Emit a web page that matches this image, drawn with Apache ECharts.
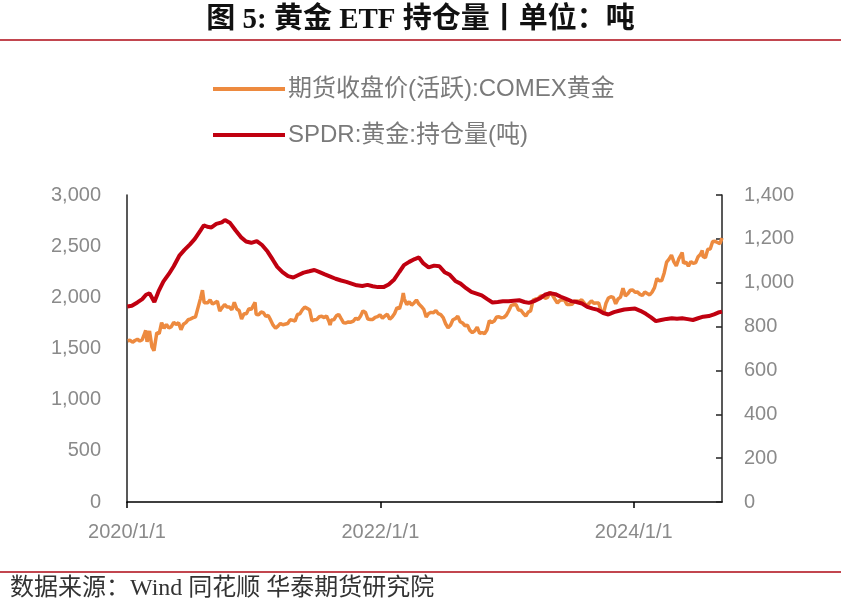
<!DOCTYPE html>
<html><head><meta charset="utf-8">
<script src="https://cdn.jsdelivr.net/npm/echarts@6/dist/echarts.min.js"></script>
<style>html,body{margin:0;padding:0;background:#fff}#c{width:841px;height:606px}</style>
</head><body><div id="c"></div>
<script>
const titleText = '图 5: 黄金 ETF 持仓量丨单位：吨';
const sourceText = '数据来源：Wind 同花顺 华泰期货研究院';
const seriesNames = ['期货收盘价(活跃):COMEX黄金', 'SPDR:黄金:持仓量(吨)'];
const xTickYears = [2020, 2022, 2024];
const leftTicks = [0, 500, 1000, 1500, 2000, 2500, 3000];
const rightTicks = [0, 200, 400, 600, 800, 1000, 1200, 1400];

const goldDates = ['2020-01-03','2020-01-10','2020-01-17','2020-01-24','2020-01-31','2020-02-07','2020-02-14','2020-02-21','2020-02-24','2020-02-28','2020-03-06','2020-03-09','2020-03-13','2020-03-19','2020-03-20','2020-03-27','2020-04-03','2020-04-10','2020-04-17','2020-04-24','2020-05-01','2020-05-08','2020-05-15','2020-05-22','2020-05-29','2020-06-05','2020-06-12','2020-06-19','2020-06-26','2020-07-03','2020-07-10','2020-07-17','2020-07-24','2020-07-31','2020-08-06','2020-08-11','2020-08-14','2020-08-21','2020-08-28','2020-09-04','2020-09-11','2020-09-18','2020-09-25','2020-10-02','2020-10-09','2020-10-16','2020-10-23','2020-10-30','2020-11-06','2020-11-13','2020-11-20','2020-11-27','2020-12-04','2020-12-11','2020-12-18','2020-12-25',
'2021-01-05','2021-01-08','2021-01-15','2021-01-22','2021-01-29','2021-02-05','2021-02-12','2021-02-19','2021-02-26','2021-03-05','2021-03-12','2021-03-19','2021-03-26','2021-03-31','2021-04-09','2021-04-16','2021-04-23','2021-04-30','2021-05-07','2021-05-14','2021-05-21','2021-05-28','2021-06-04','2021-06-11','2021-06-18','2021-06-25','2021-07-02','2021-07-09','2021-07-16','2021-07-23','2021-07-30','2021-08-06','2021-08-09','2021-08-13','2021-08-20','2021-08-27','2021-09-03','2021-09-10','2021-09-17','2021-09-24','2021-10-01','2021-10-08','2021-10-15','2021-10-22','2021-10-29','2021-11-05','2021-11-12','2021-11-16','2021-11-19','2021-11-26','2021-12-03','2021-12-10','2021-12-17','2021-12-24','2021-12-31',
'2022-01-07','2022-01-14','2022-01-21','2022-01-28','2022-02-04','2022-02-11','2022-02-18','2022-02-25','2022-03-04','2022-03-08','2022-03-11','2022-03-18','2022-03-25','2022-04-01','2022-04-08','2022-04-15','2022-04-22','2022-04-29','2022-05-06','2022-05-13','2022-05-20','2022-05-27','2022-06-03','2022-06-10','2022-06-17','2022-06-24','2022-07-01','2022-07-08','2022-07-15','2022-07-22','2022-07-29','2022-08-05','2022-08-12','2022-08-19','2022-08-26','2022-09-02','2022-09-09','2022-09-16','2022-09-23','2022-09-30','2022-10-07','2022-10-14','2022-10-21','2022-10-28','2022-11-04','2022-11-11','2022-11-18','2022-11-25','2022-12-02','2022-12-09','2022-12-16','2022-12-23','2022-12-30',
'2023-01-06','2023-01-13','2023-01-20','2023-01-27','2023-02-03','2023-02-10','2023-02-17','2023-02-24','2023-03-03','2023-03-10','2023-03-17','2023-03-24','2023-03-31','2023-04-07','2023-04-14','2023-04-21','2023-04-28','2023-05-04','2023-05-12','2023-05-19','2023-05-26','2023-06-02','2023-06-09','2023-06-16','2023-06-23','2023-06-30','2023-07-07','2023-07-14','2023-07-21','2023-07-28','2023-08-04','2023-08-11','2023-08-18','2023-08-25','2023-09-01','2023-09-08','2023-09-15','2023-09-22','2023-09-29','2023-10-06','2023-10-13','2023-10-20','2023-10-27','2023-11-03','2023-11-10','2023-11-17','2023-11-24','2023-12-01','2023-12-08','2023-12-15','2023-12-22','2023-12-29',
'2024-01-05','2024-01-12','2024-01-19','2024-01-26','2024-02-02','2024-02-09','2024-02-16','2024-02-23','2024-03-01','2024-03-08','2024-03-15','2024-03-22','2024-03-29','2024-04-05','2024-04-12','2024-04-19','2024-04-26','2024-05-03','2024-05-10','2024-05-17','2024-05-20','2024-05-24','2024-05-31','2024-06-07','2024-06-14','2024-06-21','2024-06-28','2024-07-05','2024-07-12','2024-07-17','2024-07-19','2024-07-26','2024-08-02','2024-08-09','2024-08-16','2024-08-23','2024-08-30','2024-09-06','2024-09-12'];
const goldPrice = [1575,1580,1561,1578,1590,1573,1586,1649,1676,1566,1672,1676,1516,1478,1484,1654,1645,1752,1698,1735,1700,1713,1756,1735,1751,1683,1737,1753,1781,1790,1801,1810,1897,1985,2069,1946,1944,1947,1975,1934,1947,1962,1866,1900,1930,1906,1905,1879,1951,1887,1872,1788,1840,1840,1888,1883,
1950,1835,1829,1856,1850,1814,1823,1777,1728,1698,1719,1745,1732,1715,1744,1780,1777,1768,1832,1838,1877,1905,1892,1879,1769,1781,1784,1810,1815,1802,1817,1763,1729,1779,1781,1819,1833,1791,1751,1750,1760,1757,1768,1796,1783,1818,1868,1855,1852,1788,1784,1784,1804,1811,1829,
1797,1818,1835,1785,1807,1842,1900,1889,1967,2043,1985,1929,1958,1924,1945,1974,1934,1911,1883,1808,1842,1853,1850,1871,1840,1830,1801,1742,1703,1727,1781,1791,1815,1762,1749,1722,1728,1677,1655,1672,1709,1648,1656,1645,1681,1771,1754,1768,1809,1810,1800,1804,1826,
1869,1921,1928,1929,1876,1874,1842,1817,1856,1867,1973,1983,1986,2011,2015,1990,1999,2050,2019,1981,1944,1969,1977,1971,1929,1929,1932,1961,1964,1960,1976,1946,1916,1940,1966,1942,1945,1945,1866,1845,1942,1994,2006,1999,1937,1985,2003,2089,2014,2035,2069,2072,
2050,2051,2029,2018,2053,2038,2024,2051,2095,2185,2161,2165,2238,2345,2374,2413,2347,2308,2375,2417,2438,2334,2345,2305,2349,2331,2339,2397,2421,2459,2399,2386,2470,2472,2546,2547,2536,2524,2580];

const spdrDates = ['2020-01-02','2020-01-15','2020-01-31','2020-02-14','2020-02-25','2020-03-06','2020-03-20','2020-04-01','2020-04-15','2020-05-01','2020-05-15','2020-06-01','2020-06-15','2020-07-01','2020-07-15','2020-08-01','2020-08-10','2020-08-20','2020-09-01','2020-09-15','2020-10-01','2020-10-10','2020-10-25','2020-11-10','2020-11-25','2020-12-10','2020-12-25',
'2021-01-10','2021-01-25','2021-02-10','2021-02-25','2021-03-10','2021-03-25','2021-04-10','2021-04-25','2021-05-10','2021-05-25','2021-06-10','2021-06-25','2021-07-10','2021-07-25','2021-08-10','2021-08-25','2021-09-10','2021-09-25','2021-10-10','2021-10-25','2021-11-10','2021-11-25','2021-12-10','2021-12-25',
'2022-01-10','2022-01-25','2022-02-10','2022-02-25','2022-03-10','2022-03-25','2022-04-10','2022-04-22','2022-05-05','2022-05-20','2022-06-05','2022-06-20','2022-07-05','2022-07-20','2022-08-05','2022-08-20','2022-09-05','2022-09-20','2022-10-05','2022-10-20','2022-11-05','2022-11-20','2022-12-05','2022-12-20',
'2023-01-05','2023-01-20','2023-02-05','2023-02-20','2023-03-05','2023-03-20','2023-04-05','2023-04-20','2023-05-05','2023-05-20','2023-06-05','2023-06-20','2023-07-05','2023-07-20','2023-08-05','2023-08-20','2023-09-05','2023-09-20','2023-10-05','2023-10-20','2023-11-05','2023-11-20','2023-12-05','2023-12-20',
'2024-01-05','2024-01-20','2024-02-05','2024-02-20','2024-03-05','2024-03-20','2024-04-05','2024-04-20','2024-05-05','2024-05-20','2024-06-05','2024-06-20','2024-07-05','2024-07-20','2024-08-05','2024-08-20','2024-09-01','2024-09-12'];
const spdrHoldings = [892,895,910,925,945,952,912,960,1005,1040,1075,1125,1150,1175,1200,1240,1262,1255,1252,1268,1275,1286,1272,1238,1208,1188,1182,
1190,1172,1142,1105,1072,1048,1030,1024,1035,1046,1052,1058,1048,1038,1028,1018,1010,1004,996,988,985,990,984,980,
980,992,1015,1050,1080,1095,1108,1115,1088,1070,1078,1075,1048,1036,1008,996,975,958,950,942,925,910,912,915,
916,918,920,912,908,916,928,945,952,948,936,926,916,912,905,890,882,876,862,855,866,872,878,880,
882,872,858,842,825,830,835,838,836,838,834,830,838,845,848,856,864,868];

function toYear(s) {
  const [y, m, d] = s.split('-').map(Number);
  const t0 = Date.UTC(y, 0, 1), t1 = Date.UTC(y + 1, 0, 1);
  return y + (Date.UTC(y, m - 1, d) - t0) / (t1 - t0);
}
const goldData = goldDates.map((d, i) => [toYear(d), goldPrice[i]]);
const spdrData = spdrDates.map((d, i) => [toYear(d), spdrHoldings[i]]);
const xMin = xTickYears[0];
const xMax = Math.max(toYear(goldDates[goldDates.length - 1]), toYear(spdrDates[spdrDates.length - 1]));

const labelColor = '#8a8a8a';
const labelFont = '"Liberation Sans", Arial, sans-serif';
const fmt = v => Number(v).toLocaleString('en-US');

const chart = echarts.init(document.getElementById('c'), null, {renderer: 'canvas'});
chart.setOption({
  animation: false,
  backgroundColor: '#fff',
  title: {
    text: titleText, left: 'center', top: 1,
    textStyle: {fontSize: 29, fontWeight: 'bold', color: '#111', fontFamily: '"Liberation Serif", "Noto Sans CJK SC", serif'}
  },
  graphic: [
    {type: 'line', shape: {x1: 0, y1: 40, x2: 841, y2: 40}, style: {stroke: '#c2464f', lineWidth: 2}},
    {type: 'line', shape: {x1: 0, y1: 572, x2: 841, y2: 572}, style: {stroke: '#c2464f', lineWidth: 2}},
    {type: 'text', left: 10, top: 577, style: {text: sourceText, fontSize: 24, fill: '#333', fontFamily: '"Liberation Serif", "Noto Sans CJK SC", serif'}}
  ],
  legend: {
    orient: 'vertical', left: 208, top: 72, itemGap: 22,
    itemWidth: 72, itemHeight: 4, icon: 'rect',
    data: seriesNames,
    textStyle: {fontSize: 24, color: '#7a7a7a', fontFamily: '"Liberation Sans", "Noto Sans CJK SC", sans-serif', padding: [0, 0, 0, -2]}
  },
  grid: {left: 127, right: 119, top: 195, bottom: 104, containLabel: false},
  xAxis: {
    type: 'value', min: xMin, max: xMax,
    axisLine: {show: true, lineStyle: {color: '#000', width: 1.5}},
    axisTick: {show: true, length: 6, lineStyle: {color: '#000', width: 1.5}, customValues: xTickYears},
    axisLabel: {customValues: xTickYears, formatter: v => Math.round(v) + '/1/1', color: labelColor, fontSize: 20, margin: 20, fontFamily: labelFont},
    splitLine: {show: false}
  },
  yAxis: [
    {
      type: 'value', min: 0, max: 3000, interval: 500, position: 'left',
      axisLine: {show: true, lineStyle: {color: '#222', width: 1.5}},
      axisTick: {show: false},
      axisLabel: {formatter: fmt, color: labelColor, fontSize: 20, margin: 26, fontFamily: labelFont},
      splitLine: {show: false}
    },
    {
      type: 'value', min: 0, max: 1400, interval: 200, position: 'right',
      axisLine: {show: true, lineStyle: {color: '#222', width: 1.5}},
      axisTick: {show: true, inside: true, length: 6, lineStyle: {color: '#222', width: 1.5}},
      axisLabel: {formatter: fmt, color: labelColor, fontSize: 20, margin: 22, fontFamily: labelFont},
      splitLine: {show: false}
    }
  ],
  series: [
    {
      name: seriesNames[0], type: 'line', yAxisIndex: 0, data: goldData,
      showSymbol: false, symbol: 'none', lineStyle: {color: '#ED8A3F', width: 3.5}, itemStyle: {color: '#ED8A3F'}
    },
    {
      name: seriesNames[1], type: 'line', yAxisIndex: 1, data: spdrData,
      showSymbol: false, symbol: 'none', lineStyle: {color: '#C00010', width: 4}, itemStyle: {color: '#C00010'}
    }
  ]
});
</script>
</body></html>
